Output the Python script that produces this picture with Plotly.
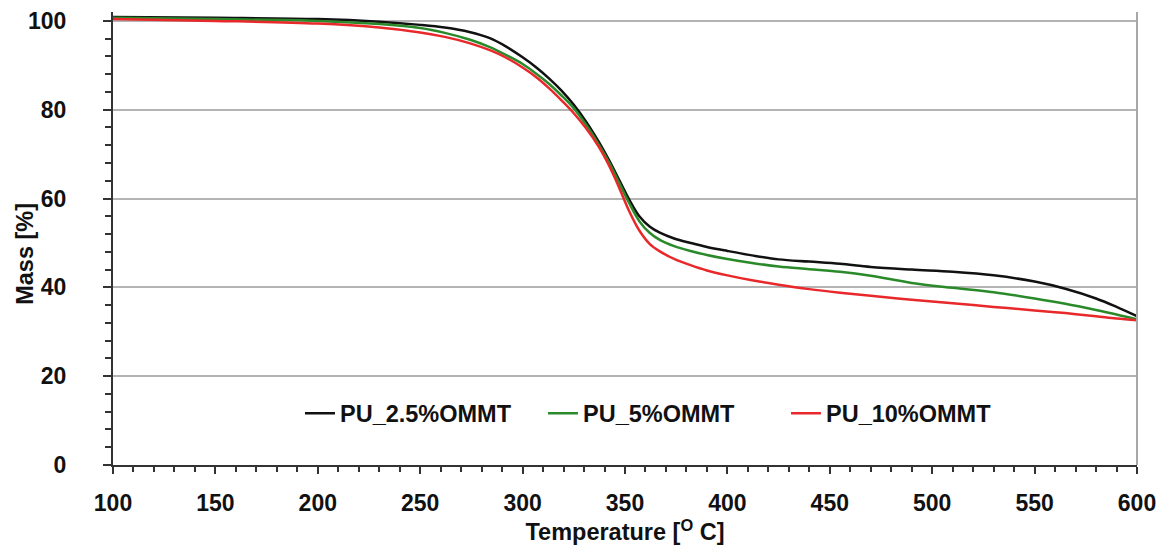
import plotly.graph_objects as go

temperature = [100, 150, 200, 230, 250, 262, 274, 284, 292, 300, 307, 313, 319, 325, 331, 337, 342, 347,
               352, 357, 362, 367, 374, 382, 390, 400, 412, 425, 440, 455, 470, 490, 510, 530, 550, 565,
               580, 590, 600]

mass_pu_2_5 = [100.9, 100.7, 100.4, 99.8, 99.1, 98.5, 97.5, 96.1, 94.2, 91.8, 89.4, 87.0, 84.3, 81.1, 77.3,
               72.9, 68.8, 64.3, 59.8, 56.0, 53.7, 52.3, 51.0, 50.0, 49.1, 48.2, 47.2, 46.3, 45.8, 45.3,
               44.6, 44.0, 43.5, 42.7, 41.3, 39.7, 37.5, 35.6, 33.5]

mass_pu_5 = [100.7, 100.4, 100.0, 99.3, 98.4, 97.3, 95.8, 94.1, 92.3, 90.3, 88.0, 85.8, 83.2, 80.3, 76.6,
             72.3, 68.3, 63.7, 59.0, 54.9, 52.3, 50.7, 49.3, 48.2, 47.3, 46.4, 45.5, 44.7, 44.1, 43.5,
             42.6, 41.0, 39.9, 38.9, 37.5, 36.3, 34.9, 33.9, 32.8]

mass_pu_10 = [100.4, 100.0, 99.4, 98.5, 97.4, 96.4, 95.0, 93.4, 91.7, 89.5, 87.2, 84.8, 82.1, 79.2, 75.8,
              71.8, 67.6, 62.6, 57.2, 52.8, 49.8, 48.1, 46.4, 45.0, 43.8, 42.7, 41.6, 40.6, 39.6, 38.8,
              38.1, 37.2, 36.4, 35.6, 34.8, 34.2, 33.5, 33.0, 32.6]

series_names = ["PU_2.5%OMMT", "PU_5%OMMT", "PU_10%OMMT"]
series_values = [mass_pu_2_5, mass_pu_5, mass_pu_10]
series_colors = ["#111111", "#2a8a2a", "#e8282a"]

x_ticks = [100, 150, 200, 250, 300, 350, 400, 450, 500, 550, 600]
y_ticks = [0, 20, 40, 60, 80, 100]

FONT = "Liberation Sans, Arial, sans-serif"

fig = go.Figure()
for name, vals, col in zip(series_names, series_values, series_colors):
    fig.add_trace(go.Scatter(
        x=temperature, y=vals, mode="lines", name=f"<b>{name}</b>",
        line=dict(color=col, width=2.5, shape="spline", smoothing=1.0),
    ))

fig.update_layout(
    width=1168, height=556,
    margin=dict(l=113, r=31, t=8, b=91),
    paper_bgcolor="white", plot_bgcolor="white",
    font=dict(family=FONT, color="#111111"),
    showlegend=True,
    legend=dict(
        orientation="h", x=0.1826, xanchor="left", y=0.114, yanchor="middle",
        font=dict(family=FONT, size=23.5, color="#111111"),
        bgcolor="rgba(0,0,0,0)", entrywidth=198, entrywidthmode="pixels",
    ),
    xaxis=dict(
        range=[100, 600], tickvals=x_ticks, ticktext=[str(v) for v in x_ticks],
        showgrid=False, zeroline=False,
        showline=True, linecolor="#333333", linewidth=2,
        ticks="outside", ticklen=7, tickwidth=2, tickcolor="#333333",
        minor=dict(dtick=10, ticks="outside", ticklen=5, tickwidth=1.5, tickcolor="#333333", showgrid=False),
        tickfont=dict(family=FONT, size=23, color="#111111", weight="bold"),
        ticklabelstandoff=9,
        title=dict(text="<b>Temperature [<sup>O</sup> C]</b>", font=dict(family=FONT, size=23.5, color="#111111"), standoff=7),
    ),
    yaxis=dict(
        range=[0, 102], tickvals=y_ticks, ticktext=[str(v) for v in y_ticks],
        showgrid=True, gridcolor="#b4b4b4", gridwidth=2, zeroline=False,
        showline=True, linecolor="#333333", linewidth=2,
        ticks="outside", ticklen=8, tickwidth=2, tickcolor="#333333",
        minor=dict(dtick=4, ticks="outside", ticklen=6, tickwidth=1.5, tickcolor="#333333", showgrid=False),
        tickfont=dict(family=FONT, size=23, color="#111111", weight="bold"),
        ticklabelstandoff=32,
    ),
    annotations=[dict(text="<b>Mass [%]</b>", xref="paper", yref="paper", x=-0.086, y=0.466,
                      xanchor="center", yanchor="middle", textangle=-90, showarrow=False,
                      font=dict(family=FONT, size=23.5, color="#111111"))],
    shapes=[dict(type="line", xref="paper", yref="paper", x0=1, x1=1, y0=0, y1=1,
                 line=dict(color="#a8a8a8", width=2))],
)

fig.write_html("out.html")
